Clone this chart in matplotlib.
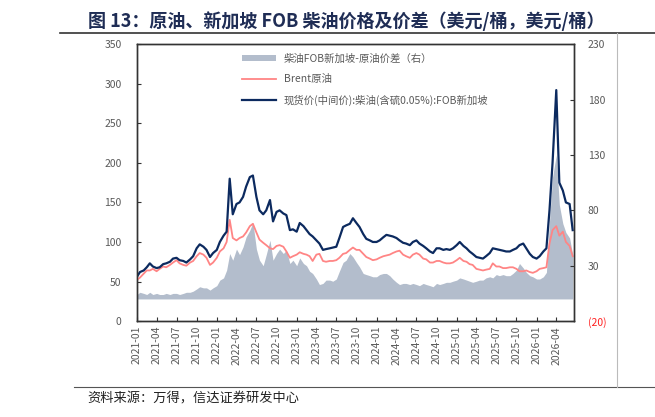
import matplotlib
matplotlib.use('Agg')
import matplotlib.pyplot as plt
import matplotlib.dates as mdates
import numpy as np
import pandas as pd

plt.rcParams['font.family'] = ['Noto Sans CJK SC', 'DejaVu Sans']

# semi-monthly observations (1st and 16th), 2021-01 .. 2026-06
dates = pd.date_range('2021-01-01', '2026-06-30', freq='SMS')

diesel = [  # 现货价(中间价):柴油(含硫0.05%):FOB新加坡
    56, 62, 64, 68, 73, 69, 67, 68, 72, 73, 75, 79, 80, 77, 76, 74, 78, 82, 92, 97, 94, 90, 81, 86,
    90, 100, 108, 113, 180, 135, 148, 150, 157, 170, 182, 184, 157, 140, 135, 140, 153, 126, 138, 140, 136, 134, 115, 116,
    113, 124, 120, 115, 110, 107, 102, 98, 90, 91, 92, 93, 94, 105, 119, 121, 123, 130, 124, 119, 110, 104, 102, 100,
    100, 102, 106, 109, 108, 107, 105, 102, 99, 98, 96, 100, 102, 98, 95, 92, 88, 86, 92, 92, 90, 91, 90, 92,
    96, 100, 95, 92, 88, 85, 81, 80, 79, 82, 86, 92, 91, 90, 89, 88, 88, 90, 92, 96, 98, 92, 85, 81,
    79, 82, 88, 92, 140, 200, 292, 175, 165, 150, 148, 115,
]
brent = [  # Brent原油
    52, 55, 60, 64, 64, 66, 63, 66, 69, 68, 71, 74, 77, 73, 71, 70, 74, 76, 82, 86, 84, 80, 71, 74,
    80, 88, 92, 100, 128, 105, 102, 105, 107, 112, 120, 123, 112, 103, 99, 96, 92, 91, 95, 96, 94, 88, 80, 82,
    84, 87, 85, 84, 82, 76, 84, 85, 76, 75, 76, 76, 77, 80, 85, 86, 90, 93, 90, 90, 85, 81, 79, 77,
    78, 80, 82, 83, 84, 86, 88, 89, 84, 82, 80, 84, 86, 84, 79, 78, 74, 74, 76, 76, 74, 73, 73, 74,
    77, 80, 76, 75, 72, 71, 66, 65, 64, 65, 66, 73, 69, 69, 67, 67, 68, 68, 66, 63, 63, 64, 62, 61,
    63, 66, 67, 68, 98, 115, 120, 108, 113, 100, 95, 82,
]
spread = [  # 柴油FOB新加坡-原油价差（右）
    4, 6, 5, 4, 6, 4, 5, 4, 4, 5, 4, 5, 5, 4, 5, 6, 6, 7, 9, 11, 10, 10, 8, 10,
    12, 17, 19, 26, 41, 35, 45, 40, 47, 56, 62, 69, 45, 35, 30, 40, 53, 35, 41, 45, 41, 44, 32, 35,
    30, 37, 32, 30, 25, 23, 18, 13, 14, 17, 17, 16, 18, 25, 33, 35, 41, 38, 33, 29, 23, 22, 21, 20,
    20, 22, 23, 23, 21, 18, 15, 13, 14, 14, 13, 14, 13, 12, 14, 13, 12, 11, 14, 13, 14, 15, 15, 16,
    17, 19, 18, 17, 16, 15, 16, 17, 17, 19, 20, 19, 22, 21, 22, 21, 21, 23, 26, 32, 28, 24, 21, 20,
    18, 18, 20, 24, 70, 110, 130, 85, 68, 60, 55, 40,
]

navy = '#0c2a5f'
red = '#ff8585'
area_c = '#b3bdcc'
gray = '#595959'

fig = plt.figure(figsize=(6.55, 4.17), dpi=100)
ax = fig.add_axes([0.209, 0.230, 0.667, 0.664])
ax2 = ax.twinx()
ax.set_zorder(ax2.get_zorder() + 1)
ax.patch.set_visible(False)

ax2.fill_between(dates, 0, spread, color=area_c, lw=0, label='柴油FOB新加坡-原油价差（右）')
ax.plot(dates, brent, color=red, lw=1.3, label='Brent原油')
ax.plot(dates, diesel, color=navy, lw=1.6, label='现货价(中间价):柴油(含硫0.05%):FOB新加坡')

ax.set_ylim(0, 350)
ax.set_yticks(range(0, 351, 50))
ax2.set_ylim(-20, 230)
ax2.set_yticks(range(-20, 231, 50))
ax2.set_yticklabels(['(20)' if v < 0 else str(v) for v in range(-20, 231, 50)])

ax.set_xlim(pd.Timestamp('2021-01-01'), pd.Timestamp('2026-06-20'))
ax.xaxis.set_major_locator(mdates.MonthLocator(bymonth=[1, 4, 7, 10]))
ax.xaxis.set_major_formatter(mdates.DateFormatter('%Y-%m'))
for lab in ax.get_xticklabels():
    lab.set_rotation(90)

for a in (ax, ax2):
    a.tick_params(direction='in', length=3, width=0.8, colors='#333333', labelsize=7.5,
                  labelcolor=gray)
    for s in a.spines.values():
        s.set_color('#333333')
        s.set_linewidth(1.0)
ax2.get_yticklabels()[0].set_color('#ff2020')
ax.tick_params(axis='y', pad=11)
ax2.tick_params(axis='y', pad=10)

h1, l1 = ax2.get_legend_handles_labels()
h2, l2 = ax.get_legend_handles_labels()
leg = ax.legend(h1 + h2, l1 + l2, loc='upper left', bbox_to_anchor=(0.22, 1.0), frameon=False,
                fontsize=7.5, handlelength=3.2, labelspacing=1.0, handleheight=0.5)
for t in leg.get_texts():
    t.set_color(gray)

# title, rules and source note
fig.text(0.134, 0.950, '图 13：原油、新加坡 FOB 柴油价格及价差（美元/桶，美元/桶）',
         fontsize=13, fontweight='bold', color='#1f2d55', va='center')
fig.add_artist(plt.Line2D([0.091, 1.0], [0.921, 0.921], color='#333333', lw=1.2))
fig.add_artist(plt.Line2D([0.113, 1.0], [0.072, 0.072], color='#555555', lw=0.8))
fig.add_artist(plt.Line2D([0.942, 0.942], [0.072, 0.921], color='#bbbbbb', lw=0.8))
fig.text(0.134, 0.043, '资料来源：万得，信达证券研发中心', fontsize=9.5, color='#222222',
         style='italic', va='center')

fig.savefig('out.png', dpi=100)
